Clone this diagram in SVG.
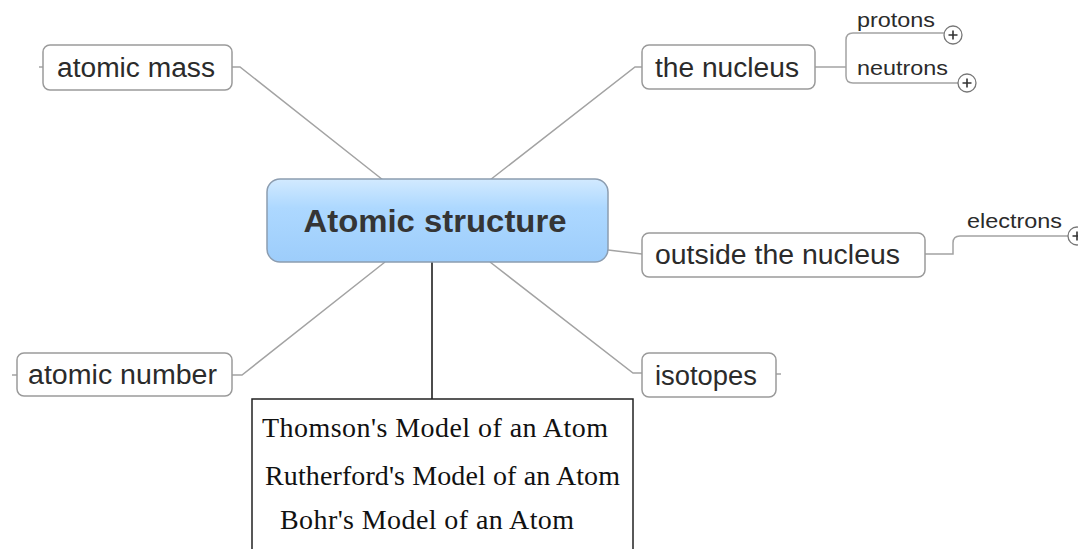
<svg xmlns="http://www.w3.org/2000/svg" width="1078" height="549" viewBox="0 0 1078 549">
  <defs>
    <linearGradient id="cg" x1="0" y1="0" x2="0" y2="1">
      <stop offset="0" stop-color="#d2eaff"/>
      <stop offset="0.35" stop-color="#add8ff"/>
      <stop offset="1" stop-color="#9dcdfb"/>
    </linearGradient>
    <g id="plus">
      <circle cx="0" cy="0" r="9" fill="#fff" stroke="#777" stroke-width="1.3"/>
      <path d="M-4.5,0 H4.5 M0,-4.5 V4.5" stroke="#333" stroke-width="1.6"/>
    </g>
  </defs>
  <style>
    .node { fill: #fff; stroke: #9a9a9a; stroke-width: 1.5; }
    .lbl { font-family: "Liberation Sans", Arial, sans-serif; font-size: 27px; fill: #2b2b2b; }
    .sub { font-family: "Liberation Sans", Arial, sans-serif; font-size: 20px; fill: #2b2b2b; }
    .conn { fill: none; stroke: #a3a3a3; stroke-width: 1.5; }
    .serif { font-family: "Liberation Serif", "Times New Roman", serif; font-size: 28px; fill: #111; }
  </style>
  <rect width="1078" height="549" fill="#fff"/>

  <g id="connectors">
    <path class="conn" d="M383,180 L240,67 H232"/>
    <path class="conn" d="M43,67 H39"/>
    <path class="conn" d="M490,180 L635,67 H642"/>
    <path class="conn" d="M608,250 L642,254"/>
    <path class="conn" d="M385,262 L242,375 H232"/>
    <path class="conn" d="M17,375 H12"/>
    <path class="conn" d="M490,262 L633,373 H642"/>
    <path class="conn" d="M776,374 H781"/>
    <path class="conn" d="M815,67 H846"/>
    <path class="conn" d="M944,33 H853 Q846,33 846,40 V76 Q846,83 853,83 H958"/>
    <path class="conn" d="M925,254 H953 V243 Q953,236 960,236 H1068"/>
    <path d="M432,262 V400" stroke="#111" stroke-width="1.5" fill="none"/>
  </g>

  <g id="center">
    <rect x="267" y="179" width="341" height="83" rx="13" fill="url(#cg)" stroke="#8c9db0" stroke-width="1.5"/>
    <text x="435" y="232" text-anchor="middle" font-family="Liberation Sans, Arial, sans-serif" font-weight="bold" font-size="31" fill="#353535" textLength="263" lengthAdjust="spacingAndGlyphs">Atomic structure</text>
  </g>

  <g id="atomic-mass">
    <rect class="node" x="43" y="45" width="189" height="45" rx="7"/>
    <text class="lbl" x="57" y="77" textLength="158" lengthAdjust="spacingAndGlyphs">atomic mass</text>
  </g>

  <g id="the-nucleus">
    <rect class="node" x="642" y="45" width="173" height="44" rx="7"/>
    <text class="lbl" x="655" y="77" textLength="144" lengthAdjust="spacingAndGlyphs">the nucleus</text>
  </g>

  <g id="protons">
    <text class="sub" x="857" y="27" textLength="78" lengthAdjust="spacingAndGlyphs">protons</text>
    <use href="#plus" x="953" y="35"/>
  </g>

  <g id="neutrons">
    <text class="sub" x="857" y="75" textLength="91" lengthAdjust="spacingAndGlyphs">neutrons</text>
    <use href="#plus" x="967" y="83"/>
  </g>

  <g id="outside-the-nucleus">
    <rect class="node" x="642" y="233" width="283" height="44" rx="7"/>
    <text class="lbl" x="655" y="264" textLength="245" lengthAdjust="spacingAndGlyphs">outside the nucleus</text>
  </g>

  <g id="electrons">
    <text class="sub" x="967" y="228" textLength="95" lengthAdjust="spacingAndGlyphs">electrons</text>
    <use href="#plus" x="1077" y="236"/>
  </g>

  <g id="atomic-number">
    <rect class="node" x="17" y="353" width="215" height="43" rx="7"/>
    <text class="lbl" x="28" y="384" textLength="189" lengthAdjust="spacingAndGlyphs">atomic number</text>
  </g>

  <g id="isotopes">
    <rect class="node" x="642" y="353" width="134" height="44" rx="7"/>
    <text class="lbl" x="655" y="385" textLength="102" lengthAdjust="spacingAndGlyphs">isotopes</text>
  </g>

  <g id="models">
    <rect x="252" y="399" width="381" height="170" fill="#fff" stroke="#222" stroke-width="1.5"/>
    <text class="serif" x="262" y="437" textLength="346" lengthAdjust="spacing">Thomson's Model of an Atom</text>
    <text class="serif" x="265" y="485" textLength="355" lengthAdjust="spacing">Rutherford's Model of an Atom</text>
    <text class="serif" x="280" y="529" textLength="294" lengthAdjust="spacing">Bohr's Model of an Atom</text>
  </g>
</svg>
